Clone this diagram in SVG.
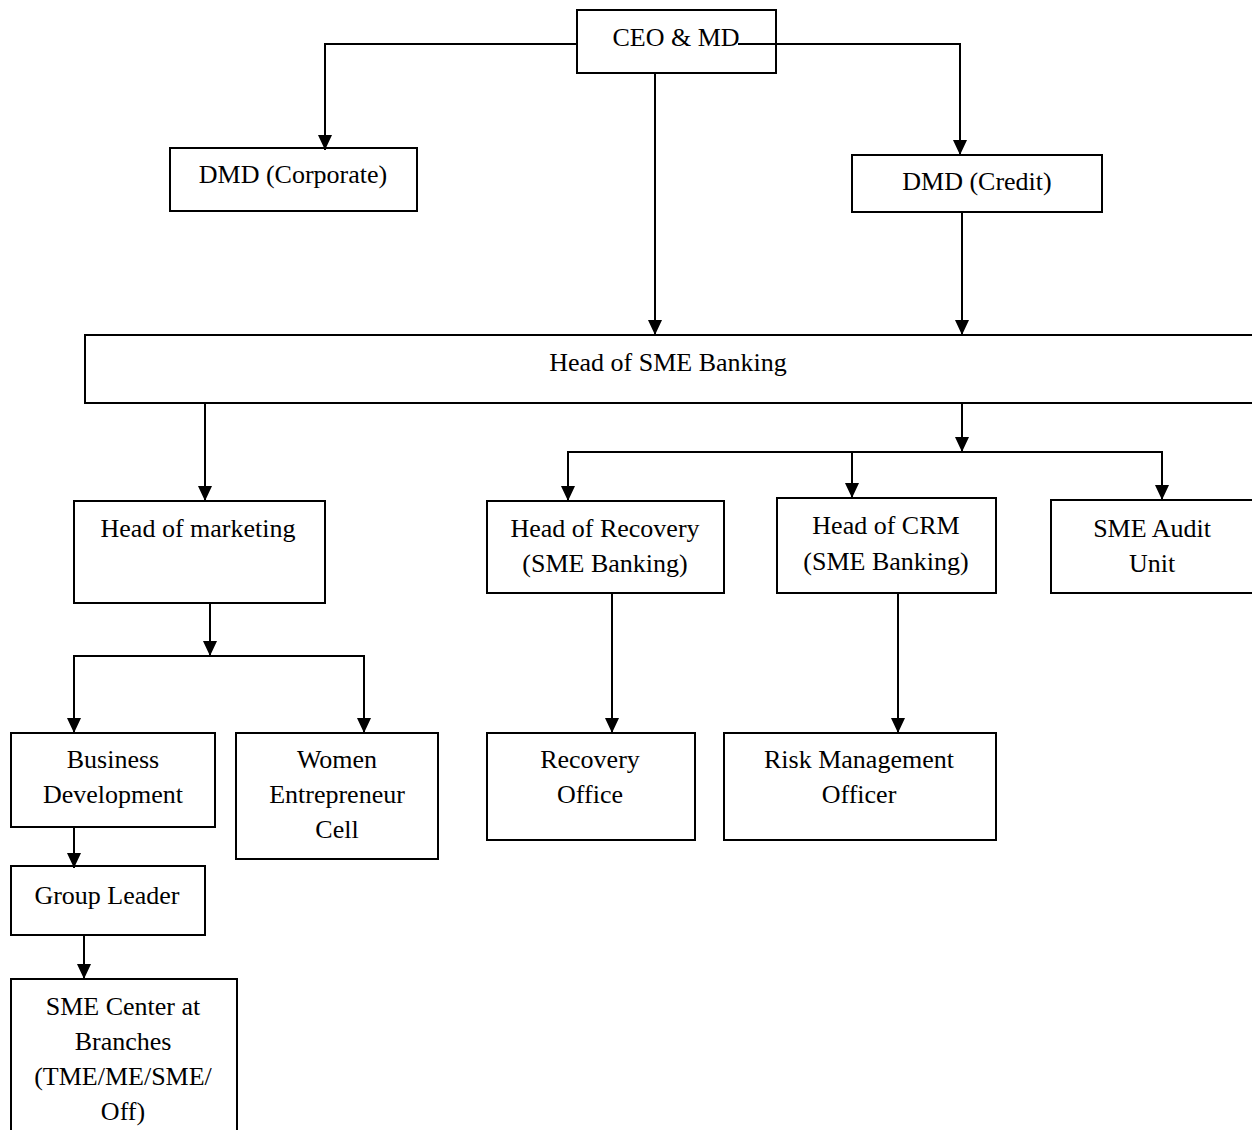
<svg xmlns="http://www.w3.org/2000/svg" width="1252" height="1130" viewBox="0 0 1252 1130">
<style>
.box{fill:#fff;stroke:#000;stroke-width:2}
.t{font-family:"Liberation Serif","Times New Roman",serif;font-size:26px;fill:#000;text-anchor:middle}
.c{fill:none;stroke:#000;stroke-width:2}
</style>
<defs>
<marker id="ah" markerUnits="userSpaceOnUse" markerWidth="16" markerHeight="14" refX="15" refY="7" orient="auto">
<path d="M0,0 L15,7 L0,14 z" fill="#000"/>
</marker>
</defs>
<rect width="1252" height="1130" fill="#fff"/>
<g id="ceo"><rect class="box" x="577" y="10" width="199" height="63"/><text class="t" x="676" y="46">CEO &amp; MD</text></g>
<g id="dmd-corporate"><rect class="box" x="170" y="148" width="247" height="63"/><text class="t" x="293" y="183">DMD (Corporate)</text></g>
<g id="dmd-credit"><rect class="box" x="852" y="155" width="250" height="57"/><text class="t" x="977" y="190">DMD (Credit)</text></g>
<g id="head-sme"><rect class="box" x="85" y="335" width="1180" height="68"/><text class="t" x="668" y="371">Head of SME Banking</text></g>
<g id="head-marketing"><rect class="box" x="74" y="501" width="251" height="102"/><text class="t" x="198" y="537">Head of marketing</text></g>
<g id="head-recovery"><rect class="box" x="487" y="501" width="237" height="92"/><text class="t" x="605" y="537">Head of Recovery</text><text class="t" x="605" y="572">(SME Banking)</text></g>
<g id="head-crm"><rect class="box" x="777" y="498" width="219" height="95"/><text class="t" x="886" y="534">Head of CRM</text><text class="t" x="886" y="570">(SME Banking)</text></g>
<g id="sme-audit"><rect class="box" x="1051" y="500" width="220" height="93"/><text class="t" x="1152" y="537">SME Audit</text><text class="t" x="1152" y="572">Unit</text></g>
<g id="business-dev"><rect class="box" x="11" y="733" width="204" height="94"/><text class="t" x="113" y="768">Business</text><text class="t" x="113" y="803">Development</text></g>
<g id="women-cell"><rect class="box" x="236" y="733" width="202" height="126"/><text class="t" x="337" y="768">Women</text><text class="t" x="337" y="803">Entrepreneur</text><text class="t" x="337" y="838">Cell</text></g>
<g id="recovery-office"><rect class="box" x="487" y="733" width="208" height="107"/><text class="t" x="590" y="768">Recovery</text><text class="t" x="590" y="803">Office</text></g>
<g id="risk-officer"><rect class="box" x="724" y="733" width="272" height="107"/><text class="t" x="859" y="768">Risk Management</text><text class="t" x="859" y="803">Officer</text></g>
<g id="group-leader"><rect class="box" x="11" y="866" width="194" height="69"/><text class="t" x="107" y="904">Group Leader</text></g>
<g id="sme-center"><rect class="box" x="11" y="979" width="226" height="170"/><text class="t" x="123" y="1015">SME Center at</text><text class="t" x="123" y="1050">Branches</text><text class="t" x="123" y="1085">(TME/ME/SME/</text><text class="t" x="123" y="1120">Off)</text></g>
<g id="connectors">
<path class="c" d="M577,44 H325 V150" marker-end="url(#ah)"/>
<path class="c" d="M738,44 H960 V155" marker-end="url(#ah)"/>
<path class="c" d="M655,73 V335" marker-end="url(#ah)"/>
<path class="c" d="M962,212 V335" marker-end="url(#ah)"/>
<path class="c" d="M205,403 V501" marker-end="url(#ah)"/>
<path class="c" d="M962,403 V452" marker-end="url(#ah)"/>
<path class="c" d="M568,500 V452 H1162 V500"/>
<path class="c" d="M568,452 V501" marker-end="url(#ah)"/>
<path class="c" d="M852,452 V498" marker-end="url(#ah)"/>
<path class="c" d="M1162,452 V500" marker-end="url(#ah)"/>
<path class="c" d="M210,603 V656" marker-end="url(#ah)"/>
<path class="c" d="M74,733 V656 H364 V733"/>
<path class="c" d="M74,656 V733" marker-end="url(#ah)"/>
<path class="c" d="M364,656 V733" marker-end="url(#ah)"/>
<path class="c" d="M74,827 V868" marker-end="url(#ah)"/>
<path class="c" d="M84,935 V979" marker-end="url(#ah)"/>
<path class="c" d="M612,593 V733" marker-end="url(#ah)"/>
<path class="c" d="M898,593 V733" marker-end="url(#ah)"/>
</g>
</svg>
